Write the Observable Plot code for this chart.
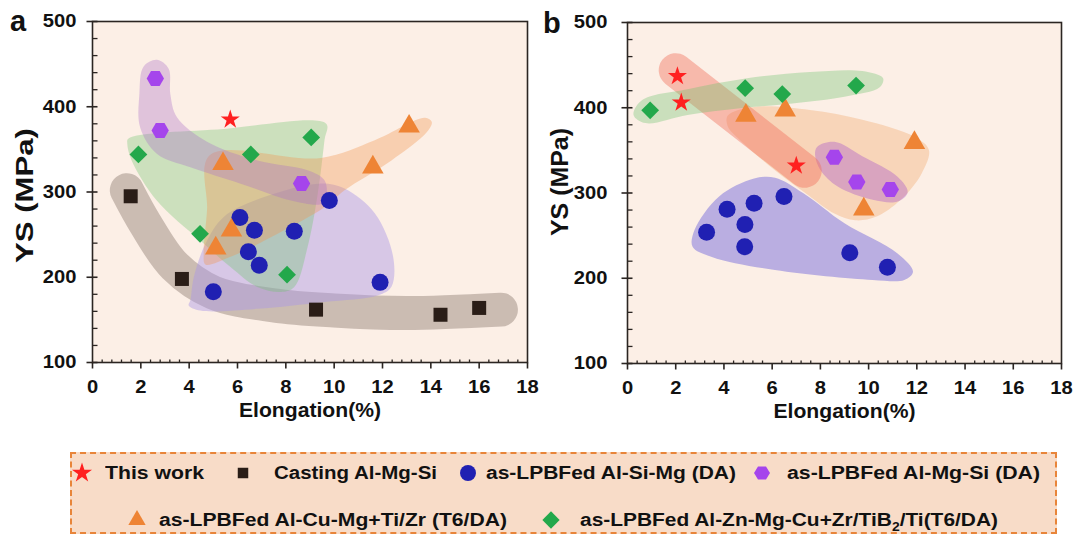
<!DOCTYPE html>
<html><head><meta charset="utf-8">
<script src="https://cdn.jsdelivr.net/npm/d3@7"></script>
<script src="https://cdn.jsdelivr.net/npm/@observablehq/plot@0.6"></script>
<style>
body{margin:0;background:#fff;font-family:"Liberation Sans",Arial,sans-serif;}
#root{position:relative;width:1077px;height:538px;overflow:hidden;background:#fff;}
.panel{position:absolute;top:0;}
.plabel{position:absolute;font-weight:bold;font-size:29px;line-height:29px;color:#111;}
#legend{position:absolute;left:70px;top:452px;width:983px;height:78px;background:#f8dcc8;border:2px dashed #e8853a;}
.li{position:absolute;white-space:nowrap;font-weight:bold;font-size:18px;line-height:20px;transform-origin:0 50%;color:#111;}
.ls{position:absolute;width:30px;height:30px;}
</style></head><body><div id="root"></div><script>
// ---------------- data ----------------
const seriesNames = ["This work","Casting Al-Mg-Si","as-LPBFed Al-Si-Mg (DA)","as-LPBFed Al-Mg-Si (DA)","as-LPBFed Al-Cu-Mg+Ti/Zr (T6/DA)","as-LPBFed Al-Zn-Mg-Cu+Zr/TiB2/Ti(T6/DA)"];
const xMajor = [0,2,4,6,8,10,12,14,16,18];
const yMajor = [100,200,300,400,500];
const xTitle = "Elongation(%)";
const yTitle = "YS (MPa)";

// panel a points [elongation %, YS MPa]
const aStar = [[5.7,385]];
const aSquare = [[1.58,295],[3.7,198],[9.25,162],[14.4,156],[16.0,164]];
const aCircle = [[5.0,183],[6.1,270],[6.7,255],[6.45,230],[6.9,214],[8.35,254],[9.8,290],[11.9,194]];
const aHexagon = [[2.6,433],[2.8,372],[8.65,310]];
const aTriangle = [[5.4,333],[5.75,255],[5.1,234],[11.6,329],[13.1,377]];
const aDiamond = [[1.9,344],[6.55,344],[9.05,364],[4.45,251],[8.05,203]];

// panel a shaded groups (outlines in data units)
const aSquareBand = [[1.42,302],[2.2,262],[3.4,213],[5,182],[7.5,167],[10,161],[13,158],[16.9,162]];
const aHexRegion = [[2.11,447],[2.66,455],[3.15,444.7],[3.22,415],[3.49,388],[4.74,359],[6.82,337],[8.9,325.5],[9.6,313.7],[9.67,294],[9.46,286],[8.21,290],[6.13,309.8],[4.05,329],[2.66,345],[1.97,376],[1.94,415]];
const aCircleRegion = [[4.05,173],[4.19,200],[4.67,239],[5.44,271],[7.1,294],[9.46,310],[10.43,304],[11.68,275],[12.44,224],[12.37,189],[11.82,179],[9.6,171],[6.82,163],[4.46,161],[3.98,167]];
const aDiamondRegion = [[1.48,362.6],[5.44,374],[9.67,380],[9.6,361],[9.32,298],[8.9,235.5],[8.35,188.6],[7.8,182.7],[6.82,188.6],[5.71,212],[4.46,243],[2.66,290],[1.62,337],[1.44,356.7]];
const aTriangleRegion = [[4.85,343],[9.46,340],[11.68,360.7],[13.76,387],[14.04,382],[13.83,370],[12.37,337],[10.43,302],[9.6,282],[7.66,251],[5.71,224],[4.67,215],[4.6,228],[4.74,279]];

// panel b points
const bStar = [[2.07,437],[2.23,406],[7.0,332]];
const bCircle = [[3.28,254],[4.13,281],[5.25,288],[4.87,263],[4.86,237],[6.49,296],[9.22,230],[10.78,213]];
const bHexagon = [[8.58,342],[9.51,313],[10.9,304]];
const bTriangle = [[4.91,391],[6.54,397],[11.9,359],[9.8,281]];
const bDiamond = [[0.94,397],[4.88,423],[6.42,416],[9.48,426]];

// panel b shaded groups
const bStarBand = [[2.0,444],[7.35,326]];
const bDiamondRegion = [[0.25,391.6],[0.61,409],[2.49,421.7],[4.96,434.6],[7.57,442],[9.74,443],[10.6,434.6],[10.46,424],[9.0,413],[6.84,405],[4.67,399.4],[2.49,391.6],[0.75,382]];
const bTriangleRegion = [[4.16,391],[5.25,401],[7.57,397.5],[9.74,386],[11.9,366],[12.5,350.5],[12.2,323],[11.33,292],[10.3,272],[9.45,268],[8.58,276],[7.57,296],[6.1,327],[4.67,362],[4.16,378]];
const bHexRegion = [[7.86,354],[8.58,360],[9.74,343],[11.2,319],[11.62,301],[11.2,290],[10.17,292],[8.72,307.5],[8.0,327],[7.78,344.6]];
const bCircleRegion = [[2.78,256.6],[3.8,296],[5.25,317],[6.12,318],[7.28,300],[9.0,264.4],[11.2,229],[11.84,207.6],[11.48,198],[10.17,198],[6.12,209.6],[3.5,225],[2.7,237]];

// ---------------- styles ----------------
const BG = "#fcefe6";
const INK = "#2b2522";
const C = {star:"#ff2020", square:"#2a1d17", circle:"#2020b2", hexagon:"#a545ec", triangle:"#ee8435", diamond:"#23a84b"};
const xMinor = d3.range(0, 18.001, 0.4).filter(v => Math.abs(v/2 - Math.round(v/2)) > 1e-6);
const yMinor = d3.range(100, 501, 20).filter(v => v % 100 !== 0);
const tickCross = {draw(c){ c.moveTo(-6,0); c.lineTo(5,0); }};
const tickIn = {draw(c){ c.moveTo(0,0); c.lineTo(5,0); }};
const tickDown = {draw(c){ c.moveTo(0,0); c.lineTo(0,6); }};
const tickUp = {draw(c){ c.moveTo(0,0); c.lineTo(0,-3); }};
const X = d => d[0], Y = d => d[1];

function region(data, color, op) {
  return Plot.line(data, {x: X, y: Y, curve: "catmull-rom-closed", fill: color, fillOpacity: op, stroke: "none"});
}
function band(data, color, op, w) {
  return Plot.line(data, {x: X, y: Y, curve: "catmull-rom", stroke: color, strokeOpacity: op, strokeWidth: w, strokeLinecap: "round", strokeLinejoin: "round", fill: "none"});
}
function dots(data, symbol, r, color, extra = {}) {
  return Plot.dot(data, {x: X, y: Y, symbol, r, fill: color, stroke: "none", ...extra});
}

function makePanel(cfg) {
  return Plot.plot({
    width: cfg.width, height: 440,
    marginLeft: cfg.ml, marginRight: cfg.mr, marginTop: cfg.mt, marginBottom: cfg.mb,
    style: {background: "transparent", color: "#111", fontFamily: "'Liberation Sans', Arial, sans-serif", fontWeight: "bold", fontSize: "18px", overflow: "visible"},
    x: {domain: [0, 18]},
    y: {domain: [100, 500]},
    marks: [
      Plot.frame({fill: BG, stroke: null}),
      ...cfg.shapes,
      Plot.dot(xMinor, {x: d => d, frameAnchor: "bottom", symbol: tickUp, stroke: INK, strokeWidth: 1.3, fill: "none"}),
      Plot.dot(xMajor, {x: d => d, frameAnchor: "bottom", symbol: tickDown, stroke: INK, strokeWidth: 1.6, fill: "none"}),
      Plot.dot(yMinor, {y: d => d, frameAnchor: "left", symbol: tickIn, stroke: INK, strokeWidth: 1.3, fill: "none"}),
      Plot.dot(yMajor, {y: d => d, frameAnchor: "left", symbol: tickCross, stroke: INK, strokeWidth: 1.6, fill: "none"}),
      Plot.frame({stroke: INK, strokeWidth: 1.6}),
      Plot.axisX({ticks: xMajor, tickSize: 0, tickPadding: 18, label: null, fontSize: 18, fontWeight: "bold"}),
      Plot.axisY({ticks: yMajor, tickSize: 0, tickPadding: cfg.ypad, label: null, fontSize: 18, fontWeight: "bold"}),
      Plot.text([xTitle], {text: d => d, frameAnchor: "bottom", dy: 54, fontSize: 20, fontWeight: "bold"}),
      Plot.text([yTitle], {text: d => d, frameAnchor: "left", textAnchor: "middle", rotate: -90, dx: cfg.ydx, dy: cfg.ydy, fontSize: 23, fontWeight: "bold"}),
      ...cfg.markers
    ]
  });
}

const panelA = makePanel({
  width: 545, ml: 92, mr: 18, mt: 21, mb: 78, ypad: 16, ydx: -67, ydy: 3.5,
  shapes: [
    band(aSquareBand, "#5a463c", 0.3, 34),
    region(aCircleRegion, "#aa96e6", 0.45),
    region(aDiamondRegion, "#6ec36e", 0.34),
    region(aTriangleRegion, "#f09650", 0.36),
    region(aHexRegion, "#aa6ec8", 0.34)
  ],
  markers: [
    dots(aSquare, "square", 7.9, C.square),
    dots(aCircle, "circle", 8.5, C.circle),
    dots(aHexagon, "hexagon", 7.5, C.hexagon, {rotate: 90}),
    dots(aTriangle, "triangle", 8, C.triangle),
    dots(aDiamond, "diamond2", 8, C.diamond),
    dots(aStar, "star", 6, C.star)
  ]
});
const panelB = makePanel({
  width: 532, ml: 82, mr: 16, mt: 22, mb: 77, ypad: 20, ydx: -66.5, ydy: -11,
  shapes: [
    region(bCircleRegion, "#786edc", 0.5),
    region(bTriangleRegion, "#f0a05a", 0.32),
    region(bHexRegion, "#aa5ac8", 0.4),
    band(bStarBand, "#f06e5a", 0.42, 34),
    region(bDiamondRegion, "#6ec36e", 0.35)
  ],
  markers: [
    dots(bCircle, "circle", 8.5, C.circle),
    dots(bHexagon, "hexagon", 7.5, C.hexagon, {rotate: 90}),
    dots(bTriangle, "triangle", 8, C.triangle),
    dots(bDiamond, "diamond2", 8, C.diamond),
    dots(bStar, "star", 6, C.star)
  ]
});

const root = document.getElementById("root");
function place(el, left) { el.classList.add("panel"); el.style.left = left + "px"; root.appendChild(el); }
place(panelA, 0);
place(panelB, 545);

function stretch(svg, sel, fn) {
  d3.select(svg).selectAll(sel).each(function() {
    const L = this.getComputedTextLength();
    this.setAttribute("textLength", fn(L));
    this.setAttribute("lengthAdjust", "spacingAndGlyphs");
  });
}
function stretchText(svg, content, len) {
  d3.select(svg).selectAll("text").filter(function() { return this.textContent === content; }).each(function() {
    this.setAttribute("textLength", len);
    this.setAttribute("lengthAdjust", "spacingAndGlyphs");
  });
}
for (const [svg, ylen] of [[panelA, 135], [panelB, 108]]) {
  stretch(svg, 'g[aria-label="x-axis tick label"] text', L => L * 1.12);
  stretch(svg, 'g[aria-label="y-axis tick label"] text', L => L * 1.12);
  stretchText(svg, xTitle, 142);
  stretchText(svg, yTitle, ylen);
}

// panel letters
for (const [t, l, tp] of [["a", 10, 7], ["b", 543, 9]]) {
  const d = document.createElement("div");
  d.className = "plabel"; d.textContent = t; d.style.left = l + "px"; d.style.top = tp + "px";
  root.appendChild(d);
}

// legend
const legend = document.createElement("div");
legend.id = "legend";
root.appendChild(legend);
const LX = 72, LY = 454;
const hexPath = (w, h) => { const a = w/2, b = h/2, q = w/4; return `M${-a},0L${-q},${-b}L${q},${-b}L${a},0L${q},${b}L${-q},${b}Z`; };
const legendItems = [
  {name: seriesNames[0], path: d3.symbol(d3.symbolStar, 125)(), color: C.star, sx: 82, cy: 473, t0: 105, t1: 204},
  {name: seriesNames[1], path: d3.symbol(d3.symbolSquare, 110)(), color: C.square, sx: 243, cy: 473, t0: 274, t1: 437},
  {name: seriesNames[2], path: d3.symbol(d3.symbolCircle, 200)(), color: C.circle, sx: 468, cy: 473, t0: 486, t1: 736},
  {name: seriesNames[3], path: hexPath(16, 13), color: C.hexagon, sx: 762, cy: 473, t0: 787, t1: 1040},
  {name: seriesNames[4], path: d3.symbol(d3.symbolTriangle, 130)(), color: C.triangle, sx: 137, cy: 520, t0: 159, t1: 507},
  {name: seriesNames[5], path: d3.symbol(d3.symbolDiamond2, 190)(), color: C.diamond, sx: 551, cy: 520, t0: 580, t1: 998}
];
for (const it of legendItems) {
  const s = d3.create("svg").attr("class", "ls").attr("width", 30).attr("height", 30).attr("viewBox", "-15 -15 30 30")
    .style("left", (it.sx - LX - 15) + "px").style("top", (it.cy - LY - 15) + "px");
  s.append("path").attr("d", it.path).attr("fill", it.color);
  legend.appendChild(s.node());
  const sp = document.createElement("span");
  sp.className = "li";
  if (it.name.includes("TiB2")) {
    sp.innerHTML = "as-LPBFed Al-Zn-Mg-Cu+Zr/TiB<sub style='font-size:12px;line-height:0'>2</sub>/Ti(T6/DA)";
  } else sp.textContent = it.name;
  sp.style.left = (it.t0 - LX) + "px";
  sp.style.top = (it.cy - LY - 10) + "px";
  legend.appendChild(sp);
  const w = sp.getBoundingClientRect().width;
  sp.style.transform = `scaleX(${(it.t1 - it.t0) / w})`;
}
</script></body></html>
